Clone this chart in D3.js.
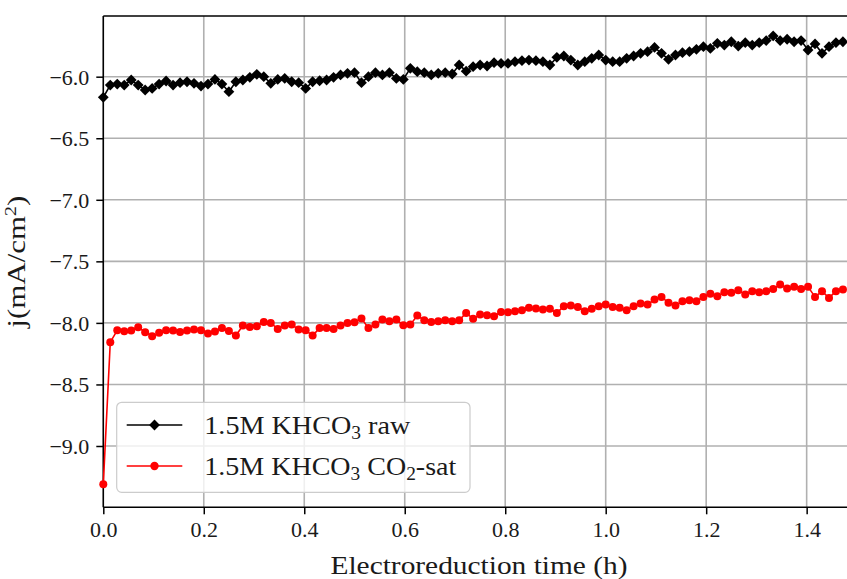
<!DOCTYPE html>
<html>
<head>
<meta charset="utf-8">
<script src="https://cdn.jsdelivr.net/npm/d3@7"></script>
<style>
  html, body { margin: 0; padding: 0; background: #fff; overflow: hidden; }
  svg { display: block; }
  svg text { font-family: "Liberation Serif", "Times New Roman", serif; fill: #1a1a1a; }
</style>
</head>
<body>
<svg id="chart" width="847" height="579"></svg>
<script>
// Sampling interval of the chronoamperometry record: 50 s, expressed in hours
const SAMPLE_STEP_H = 50 / 3600;

// Current density j (mA/cm²) of 1.5M KHCO3, raw electrolyte
const rawSeries = [
  -6.168, -6.068, -6.060, -6.068, -6.027, -6.068, -6.108, -6.095, -6.060, -6.035,
  -6.068, -6.049, -6.041, -6.054, -6.076, -6.060, -6.022, -6.060, -6.122, -6.041,
  -6.027, -6.005, -5.981, -6.000, -6.054, -6.022, -6.014, -6.041, -6.049, -6.095,
  -6.041, -6.033, -6.027, -6.005, -5.986, -5.973, -5.967, -6.049, -6.000, -5.967,
  -5.986, -5.967, -6.014, -6.022, -5.932, -5.959, -5.967, -5.986, -5.973, -5.967,
  -5.978, -5.905, -5.955, -5.919, -5.905, -5.913, -5.886, -5.892, -5.892, -5.878,
  -5.870, -5.865, -5.870, -5.878, -5.905, -5.843, -5.832, -5.865, -5.905, -5.878,
  -5.851, -5.824, -5.865, -5.878, -5.878, -5.851, -5.832, -5.810, -5.797, -5.762,
  -5.810, -5.859, -5.824, -5.805, -5.797, -5.778, -5.756, -5.770, -5.729, -5.743,
  -5.716, -5.751, -5.724, -5.743, -5.724, -5.707, -5.669, -5.707, -5.696, -5.716,
  -5.707, -5.783, -5.734, -5.810, -5.756, -5.724, -5.716
];

// Current density j (mA/cm²) of 1.5M KHCO3, CO2-saturated electrolyte
const satSeries = [
  -9.310, -8.157, -8.060, -8.068, -8.062, -8.035, -8.076, -8.108, -8.081, -8.060,
  -8.062, -8.073, -8.062, -8.054, -8.060, -8.087, -8.070, -8.041, -8.065, -8.103,
  -8.022, -8.033, -8.027, -7.992, -8.000, -8.049, -8.022, -8.014, -8.054, -8.060,
  -8.103, -8.041, -8.041, -8.049, -8.022, -8.000, -7.995, -7.965, -8.041, -8.014,
  -7.973, -7.986, -7.973, -8.019, -8.014, -7.940, -7.978, -7.992, -7.986, -7.978,
  -7.986, -7.978, -7.919, -7.967, -7.932, -7.938, -7.946, -7.911, -7.913, -7.905,
  -7.897, -7.878, -7.884, -7.892, -7.886, -7.919, -7.865, -7.859, -7.870, -7.905,
  -7.886, -7.865, -7.851, -7.870, -7.878, -7.897, -7.865, -7.843, -7.851, -7.810,
  -7.789, -7.837, -7.859, -7.824, -7.816, -7.824, -7.789, -7.764, -7.783, -7.751,
  -7.756, -7.734, -7.770, -7.743, -7.751, -7.743, -7.724, -7.688, -7.721, -7.707,
  -7.724, -7.707, -7.789, -7.743, -7.797, -7.743, -7.729
];

const xTicks = [0.0, 0.2, 0.4, 0.6, 0.8, 1.0, 1.2, 1.4];
const yTicks = [-9.0, -8.5, -8.0, -7.5, -7.0, -6.5, -6.0];

const FONT = '"Liberation Serif", "Times New Roman", serif';
const svg = d3.select("#chart");
const margin = { left: 103.3, top: 16, bottom: 507.3 };

const x = d3.scaleLinear().domain([0, 1.5]).range([margin.left, margin.left + 1.5 * 502.4]);
const y = d3.scaleLinear().domain([-9.498, -5.507]).range([margin.bottom, margin.top]);

const minus = s => s.replace("-", "\u2212");
const GRID = "#b0b0b0";

// grid
const grid = svg.append("g");
grid.selectAll("line.gx").data(xTicks).join("line")
  .attr("x1", d => x(d)).attr("x2", d => x(d))
  .attr("y1", margin.top).attr("y2", margin.bottom)
  .attr("stroke", GRID).attr("stroke-width", 1.6);
grid.selectAll("line.gy").data(yTicks).join("line")
  .attr("x1", margin.left).attr("x2", 847)
  .attr("y1", d => y(d)).attr("y2", d => y(d))
  .attr("stroke", GRID).attr("stroke-width", 1.6);

// axes
const xAxis = d3.axisBottom(x).tickValues(xTicks).tickFormat(d3.format(".1f"))
  .tickSizeInner(7).tickSizeOuter(0).tickPadding(6);
const yAxis = d3.axisLeft(y).tickValues(yTicks).tickFormat(d => minus(d3.format(".1f")(d)))
  .tickSizeInner(7).tickSizeOuter(0).tickPadding(7);

const gx = svg.append("g").attr("transform", `translate(0,${margin.bottom})`).call(xAxis);
const gy = svg.append("g").attr("transform", `translate(${margin.left},0)`).call(yAxis);
[gx, gy].forEach(g => {
  g.attr("font-family", FONT).attr("font-size", 22);
  g.select(".domain").remove();
  g.selectAll(".tick line").attr("stroke", "#000").attr("stroke-width", 1.5);
  g.selectAll(".tick text").attr("fill", "#1a1a1a");
});
gx.selectAll(".tick text").attr("dy", "0.75em");
gy.selectAll(".tick text").attr("dy", "0.34em");

// spines (left, bottom, top; right side lies past the page edge)
const spines = svg.append("g").attr("stroke", "#000").attr("stroke-width", 1.5).attr("fill", "none");
spines.append("line").attr("x1", margin.left).attr("x2", margin.left).attr("y1", margin.top).attr("y2", margin.bottom);
spines.append("line").attr("x1", margin.left).attr("x2", 847).attr("y1", margin.bottom).attr("y2", margin.bottom);
spines.append("line").attr("x1", margin.left).attr("x2", 847).attr("y1", margin.top).attr("y2", margin.top);

// series
const toPoints = arr => arr.map((v, i) => ({ t: i * SAMPLE_STEP_H, v }));
const line = d3.line().x(d => x(d.t)).y(d => y(d.v));
const diamond = (cx, cy, r) => `M${cx},${cy - r}L${cx + r},${cy}L${cx},${cy + r}L${cx - r},${cy}Z`;

const rawPts = toPoints(rawSeries);
const satPts = toPoints(satSeries);

const gRaw = svg.append("g");
gRaw.append("path").datum(rawPts).attr("d", line)
  .attr("fill", "none").attr("stroke", "#000").attr("stroke-width", 1.6);
gRaw.selectAll("path.m").data(rawPts).join("path").attr("class", "m")
  .attr("d", d => diamond(x(d.t), y(d.v), 5.4)).attr("fill", "#000");

const gSat = svg.append("g");
gSat.append("path").datum(satPts).attr("d", line)
  .attr("fill", "none").attr("stroke", "#ff0000").attr("stroke-width", 1.6);
gSat.selectAll("circle").data(satPts).join("circle")
  .attr("cx", d => x(d.t)).attr("cy", d => y(d.v)).attr("r", 4.0).attr("fill", "#ff0000");

// axis titles
svg.append("text").attr("x", 479).attr("y", 574).attr("text-anchor", "middle")
  .attr("font-size", 25).attr("textLength", 297).attr("lengthAdjust", "spacingAndGlyphs")
  .text("Electroreduction time (h)");

const yTitle = svg.append("text").attr("transform", `translate(25,${(margin.top + margin.bottom) / 2}) rotate(-90)`)
  .attr("text-anchor", "middle").attr("font-size", 25);
yTitle.append("tspan").text("j(mA/cm");
yTitle.append("tspan").attr("font-size", 16).attr("dy", -9).text("2");
yTitle.append("tspan").attr("dy", 9).text(")");
yTitle.attr("textLength", 132).attr("lengthAdjust", "spacingAndGlyphs");

// legend
const legend = svg.append("g");
legend.append("rect").attr("x", 116.7).attr("y", 402.3).attr("width", 353.3).attr("height", 90)
  .attr("rx", 5).attr("fill", "#fff").attr("fill-opacity", 0.8)
  .attr("stroke", "#cccccc").attr("stroke-width", 1.2);

const legendItems = [
  { color: "#000", marker: "diamond", parts: [["1.5M KHCO", 0], ["3", 1], [" raw", 0]], width: 206 },
  { color: "#ff0000", marker: "circle", parts: [["1.5M KHCO", 0], ["3", 1], [" CO", 0], ["2", 1], ["-sat", 0]], width: 252 }
];
const rowY = [425, 466];
legendItems.forEach((it, i) => {
  const cy = rowY[i];
  legend.append("line").attr("x1", 126.7).attr("x2", 182.3).attr("y1", cy).attr("y2", cy)
    .attr("stroke", it.color).attr("stroke-width", 1.6);
  if (it.marker === "diamond") {
    legend.append("path").attr("d", diamond(154.5, cy, 5.4)).attr("fill", it.color);
  } else {
    legend.append("circle").attr("cx", 154.5).attr("cy", cy).attr("r", 4.2).attr("fill", it.color);
  }
  const t = legend.append("text").attr("x", 204.3).attr("y", cy + 9).attr("font-size", 26);
  let shifted = false;
  it.parts.forEach(([s, sub]) => {
    const sp = t.append("tspan").text(s);
    if (sub && !shifted) { sp.attr("font-size", 18).attr("dy", 5); shifted = true; }
    else if (!sub && shifted) { sp.attr("dy", -5); shifted = false; }
  });
  t.attr("textLength", it.width).attr("lengthAdjust", "spacingAndGlyphs");
});
</script>
</body>
</html>
